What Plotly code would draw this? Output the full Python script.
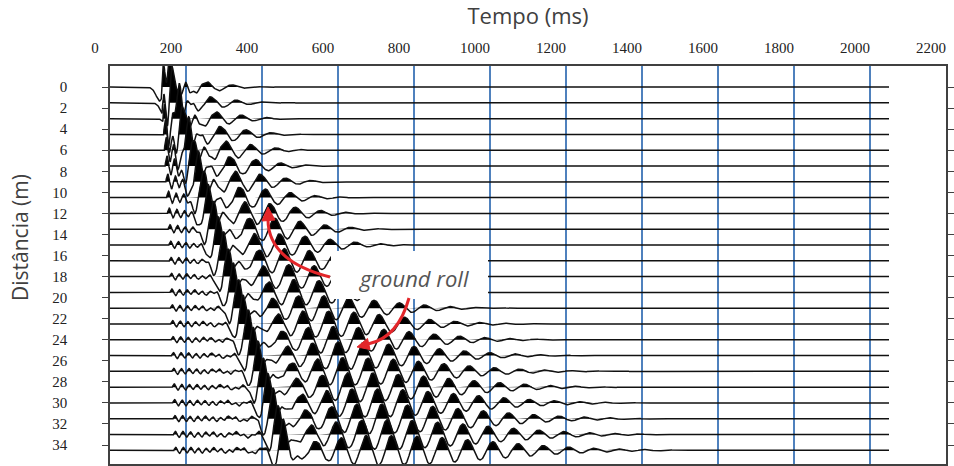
import numpy as np
import plotly.graph_objects as go

# ---------------- data ----------------
offsets_m = [0, 1.5, 3, 4.5, 6, 7.5, 9, 10.5, 12, 13.5, 15, 16.5,
             18, 19.5, 21, 22.5, 24, 25.5, 27, 28.5, 30, 31.5, 33, 34.5]
time_ticks_ms = [0, 200, 400, 600, 800, 1000, 1200, 1400, 1600, 1800, 2000, 2200]
dist_ticks_m = [0, 2, 4, 6, 8, 10, 12, 14, 16, 18, 20, 22, 24, 26, 28, 30, 32, 34]
trace_end_ms = 2050

# first break burst (onset, amplitude in m of trace offset, decay)
fb_onset_ms = [135, 137, 139, 141, 143, 145, 147, 149, 151, 153, 155, 156,
               157, 158, 159, 160, 161, 162, 163, 164, 165, 166, 167, 168]
fb_amp_m = [2.8, 2.5, 2.1, 1.7, 1.35, 1.05, 0.8, 0.62, 0.5, 0.42, 0.37, 0.34,
            0.32, 0.32, 0.31, 0.31, 0.30, 0.30, 0.30, 0.30, 0.30, 0.30, 0.30, 0.30]
fb_decay_ms = [30, 32, 36, 45, 55, 65, 75, 85, 95, 105, 110, 120,
               130, 140, 150, 160, 170, 180, 190, 200, 210, 220, 230, 240]
fb_freq_hz = 50

# direct wave (thick black diagonal band)
dw_peak_ms = [155, 168, 181, 194, 207, 220, 233, 246, 259, 272, 285, 298,
              311, 324, 337, 350, 363, 376, 389, 402, 415, 428, 441, 455]
dw_amp_m = [3.0, 3.0, 3.0, 3.0, 3.0, 3.0, 3.0, 3.0, 3.0, 3.0, 3.0, 3.0,
            3.0, 3.0, 3.0, 3.0, 3.0, 3.0, 3.0, 3.0, 3.0, 3.0, 3.0, 3.0]
dw_freq_hz = 16

# ground roll (dispersive train)
gr_center_ms = [195, 215, 235, 255, 275, 295, 315, 335, 360, 385, 410, 435,
                460, 485, 510, 540, 570, 595, 620, 645, 665, 685, 700, 715]
gr_rise_ms = [35, 40, 45, 55, 60, 70, 80, 90, 100, 110, 120, 130,
              140, 150, 160, 170, 185, 195, 205, 215, 225, 235, 245, 255]
gr_decay_ms = [120, 125, 130, 135, 140, 145, 150, 160, 170, 185, 200, 215,
               230, 250, 270, 290, 310, 325, 340, 355, 370, 380, 390, 400]
gr_amp_m = [0.6, 0.65, 0.7, 0.8, 0.85, 0.9, 0.95, 1.0, 1.05, 1.1, 1.1, 1.15,
            1.15, 1.2, 1.2, 1.25, 1.25, 1.3, 1.3, 1.35, 1.35, 1.4, 1.4, 1.4]
gr_phase_ms = [255, 267, 280, 292, 305, 317, 330, 342, 355, 367, 380, 392,
               404, 417, 429, 442, 454, 467, 479, 492, 504, 516, 529, 541]
gr_freq_hz = 15

# ---------------- layout geometry ----------------
W, H = 954, 466
ML, MR, MT, MB = 110, 8, 66, 2
X_RANGE = [0, 2200]
Y_RANGE = [35.8, -2.0]


def px2t(px):
    return X_RANGE[0] + (px - ML) / (W - ML - MR) * (X_RANGE[1] - X_RANGE[0])


def py2d(py):
    return Y_RANGE[1] + (py - MT) / (H - MT - MB) * (Y_RANGE[0] - Y_RANGE[1])


t = np.arange(0, trace_end_ms + 1, 1.0)


def signal(i):
    s = np.zeros_like(t)
    tau = t - fb_onset_ms[i]
    m = tau >= 0
    s[m] += fb_amp_m[i] * np.exp(-tau[m] / fb_decay_ms[i]) * np.sin(2 * np.pi * fb_freq_hz * tau[m] / 1000)
    u = (np.pi * dw_freq_hz * (t - dw_peak_ms[i]) / 1000) ** 2
    s += dw_amp_m[i] * (1 - 2 * u) * np.exp(-u)
    dt = t - gr_center_ms[i]
    w = np.where(dt < 0, gr_rise_ms[i], gr_decay_ms[i])
    env = np.exp(-(dt / w) ** 2)
    s += gr_amp_m[i] * env * np.cos(2 * np.pi * gr_freq_hz * (t - gr_phase_ms[i]) / 1000)
    return s


fig = go.Figure()
for i, d in enumerate(offsets_m):
    s = signal(i)
    pos = np.clip(s, 0, None)
    fx = np.concatenate([t, t[::-1]])
    fy = np.concatenate([d - pos, np.full_like(t, d)])
    fig.add_trace(go.Scatter(x=fx, y=fy, mode="lines", fill="toself",
                             fillcolor="black", line=dict(width=0),
                             hoverinfo="skip", showlegend=False))
    fig.add_trace(go.Scatter(x=t, y=d - s, mode="lines",
                             line=dict(color="#111111", width=1.5),
                             showlegend=False, name=f"{d} m"))

# white label box + red curved arrows
shapes = [dict(type="rect", xref="x", yref="y", layer="above",
               x0=px2t(331), x1=px2t(488), y0=py2d(251), y1=py2d(299),
               fillcolor="white", line=dict(width=0))]


def curve(p0, c, p1):
    return (f"M {px2t(p0[0])},{py2d(p0[1])} Q {px2t(c[0])},{py2d(c[1])} "
            f"{px2t(p1[0])},{py2d(p1[1])}")


def tri(a, b, c):
    return (f"M {px2t(a[0])},{py2d(a[1])} L {px2t(b[0])},{py2d(b[1])} "
            f"L {px2t(c[0])},{py2d(c[1])} Z")


red = "#e3262a"
shapes.append(dict(type="path", xref="x", yref="y", layer="above",
                   path=curve((330, 277), (267, 261), (268, 218)),
                   line=dict(color=red, width=3)))
shapes.append(dict(type="path", xref="x", yref="y", layer="above",
                   path=tri((268, 207), (262, 221), (275, 220)),
                   fillcolor=red, line=dict(color=red, width=1)))
shapes.append(dict(type="path", xref="x", yref="y", layer="above",
                   path=curve((409, 298), (398, 338), (368, 344)),
                   line=dict(color=red, width=3)))
shapes.append(dict(type="path", xref="x", yref="y", layer="above",
                   path=tri((357, 347), (370, 349.5), (367.5, 338.5)),
                   fillcolor=red, line=dict(color=red, width=1)))

pw, ph = W - ML - MR, H - MT - MB

fig.update_layout(
    width=W, height=H,
    margin=dict(l=ML, r=MR, t=MT, b=MB, autoexpand=False),
    paper_bgcolor="white", plot_bgcolor="white",
    showlegend=False,
    shapes=shapes,
    annotations=[
        dict(x=px2t(413), y=py2d(278), xref="x", yref="y",
             text="<i>ground roll</i>", showarrow=False,
             font=dict(family="Open Sans", size=22, color="#555555")),
        dict(x=(20 - ML) / pw, y=1 - (238 - MT) / ph, xref="paper", yref="paper",
             xanchor="center", yanchor="middle", text="Distância (m)",
             textangle=-90, showarrow=False,
             font=dict(family="Open Sans", size=21, color="#404040")),
    ],
    xaxis=dict(range=X_RANGE, side="top", tickvals=time_ticks_ms,
               ticktext=[str(v) for v in time_ticks_ms], ticks="",
               showgrid=True, gridcolor="#4f81bd", gridwidth=2,
               zeroline=False, showline=True, mirror=True,
               linecolor="#404040", linewidth=1.5,
               ticklabelshift=-15, ticklabelstandoff=5,
               tickfont=dict(family="Liberation Serif", size=15, color="#222222"),
               title=dict(text="Tempo (ms)", standoff=10,
                          font=dict(family="Open Sans", size=22, color="#404040"))),
    yaxis=dict(range=Y_RANGE, tickvals=dist_ticks_m,
               ticktext=[str(v) for v in dist_ticks_m],
               ticks="outside", ticklen=6, tickcolor="#404040", tickwidth=1.2,
               showgrid=False, zeroline=False, showline=True, mirror="ticks",
               linecolor="#404040", linewidth=1.5,
               ticklabelstandoff=32,
               tickfont=dict(family="Liberation Serif", size=15, color="#222222")),
)

fig.write_html("out.html")
